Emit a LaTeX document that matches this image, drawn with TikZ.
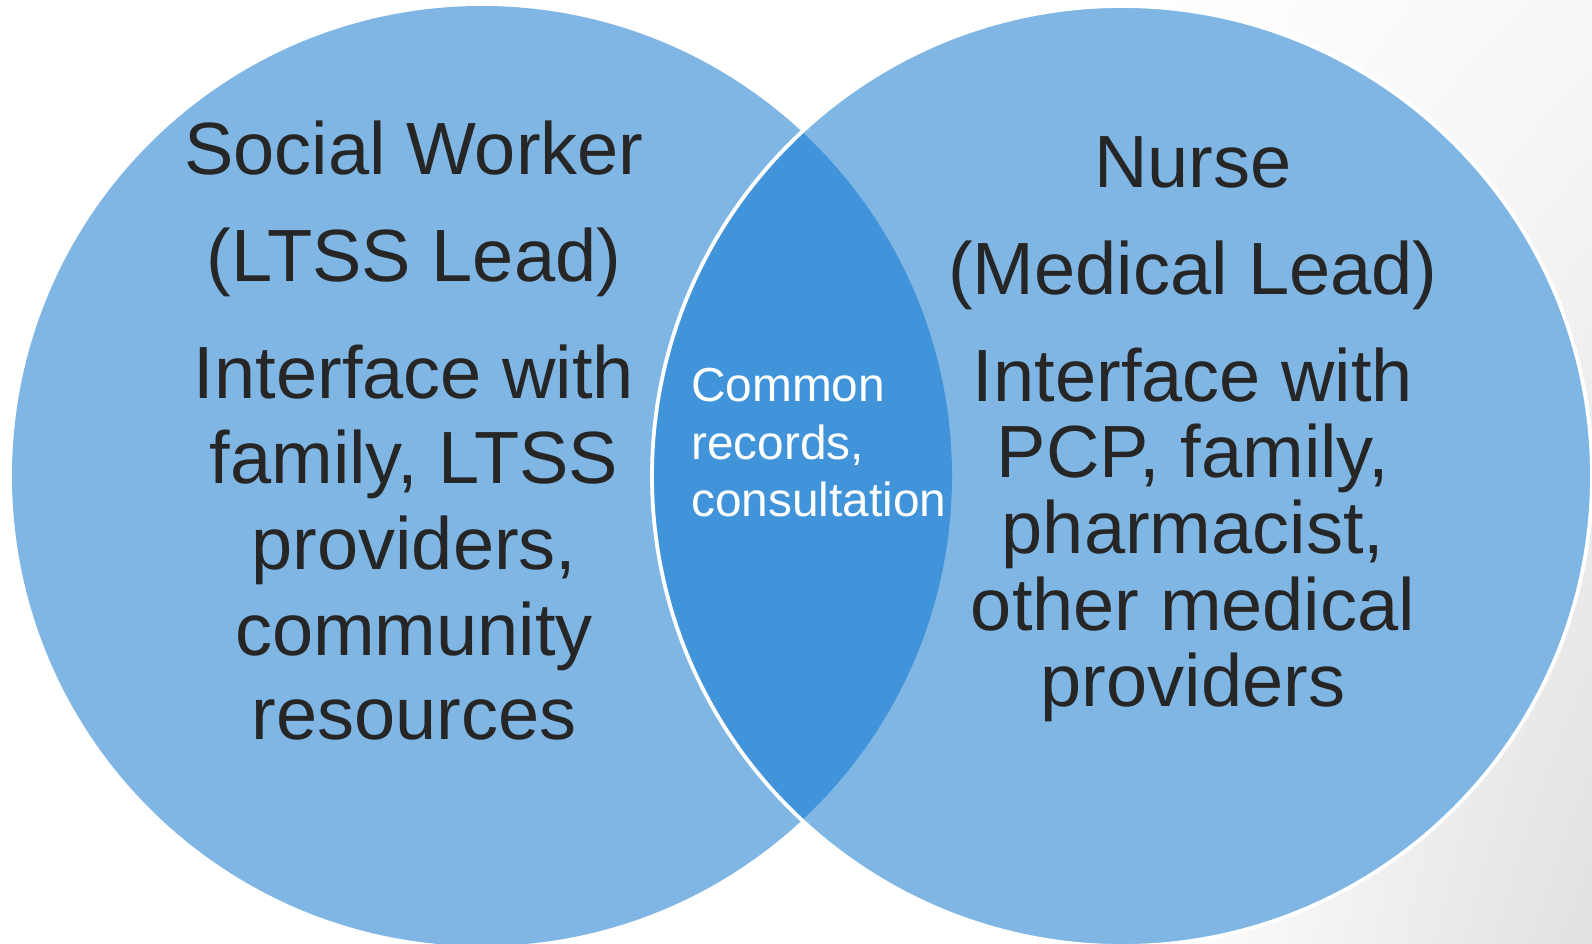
\documentclass[tikz,border=0pt]{standalone}
\usetikzlibrary{shadings}
\usepackage{fontspec}
\setmainfont{Liberation Sans}
\definecolor{circ}{HTML}{7FB6E3}
\definecolor{lens}{HTML}{4194DA}
\definecolor{txt}{HTML}{262626}
\begin{document}
\begin{tikzpicture}[x=1pt,y=-1pt,
  big/.style={font=\fontsize{74}{80}\selectfont, text=txt, anchor=base, inner sep=0pt},
  small/.style={font=\fontsize{47.8}{52}\selectfont, text=white, anchor=base west, inner sep=0pt}]
\useasboundingbox (0,0) rectangle (1592,944);
\fill[white] (0,0) rectangle (1592,944);
\shade[upper left=white, lower left=white, upper right=black!3, lower right=black!12] (1150,0) rectangle (1592,944);
% circles
\coordinate (L) at (482,476);
\coordinate (R) at (1122,476);
\fill[circ] (L) circle (470);
\fill[circ] (R) circle (470);
\begin{scope}
  \clip (L) circle (470);
  \fill[lens] (R) circle (470);
\end{scope}
\draw[white, line width=3.8pt] (R) circle (470);
% left texts
\node[big] (l1) at (414,175) {Social Worker};
\node[big] (l2) at (414,281) {(LTSS Lead)};
\node[big] (l3) at (414,398) {Interface with};
\node[big] (l4) at (414,483) {family, LTSS};
\node[big] (l5) at (414,569) {providers,};
\node[big] (l6) at (414,655) {community};
\node[big] (l7) at (414,739) {resources};
% right texts
\node[big] (r1) at (1193,188) {Nurse};
\node[big] (r2) at (1193,294) {(Medical Lead)};
\node[big] (r3) at (1193,401) {Interface with};
\node[big] (r4) at (1193,477) {PCP, family,};
\node[big] (r5) at (1193,553) {pharmacist,};
\node[big] (r6) at (1193,630) {other medical};
\node[big] (r7) at (1193,706) {providers};
% center texts
\node[small] (c1) at (691,401) {Common};
\node[small] (c2) at (691,459) {records,};
\node[small] (c3) at (691,516) {consultation};
\end{tikzpicture}
\end{document}
